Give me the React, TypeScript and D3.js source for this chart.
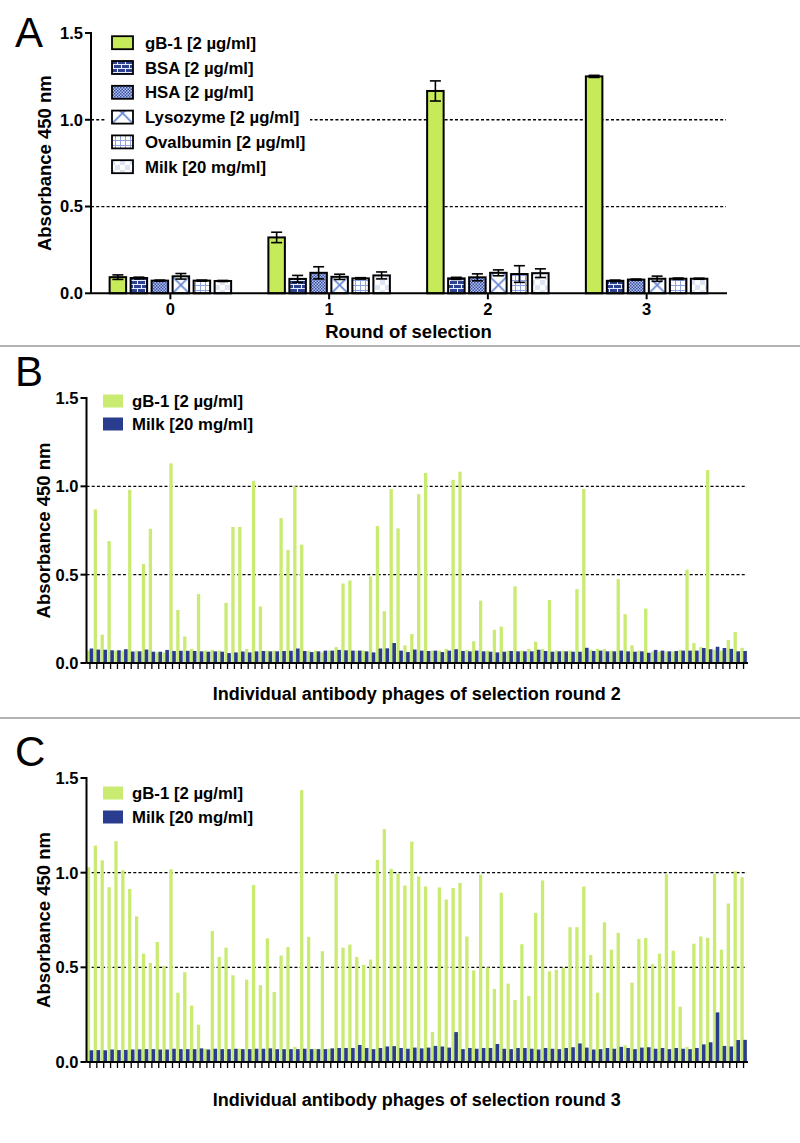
import React from "react";
import * as d3 from "d3";

// ---------- Panel A data ----------
const roundsA = ["0", "1", "2", "3"];
const seriesA = [
  "gB-1 [2 µg/ml]",
  "BSA [2 µg/ml]",
  "HSA [2 µg/ml]",
  "Lysozyme [2 µg/ml]",
  "Ovalbumin [2 µg/ml]",
  "Milk [20 mg/ml]",
];
const gb1MeanA = [0.093, 0.322, 1.166, 1.250];
const gb1ErrA = [0.013, 0.03, 0.058, 0.006];
const bsaMeanA = [0.088, 0.083, 0.086, 0.072];
const bsaErrA = [0.005, 0.02, 0.006, 0.004];
const hsaMeanA = [0.073, 0.118, 0.092, 0.079];
const hsaErrA = [0.003, 0.035, 0.02, 0.003];
const lysoMeanA = [0.098, 0.095, 0.118, 0.084];
const lysoErrA = [0.016, 0.015, 0.017, 0.015];
const ovalMeanA = [0.073, 0.086, 0.111, 0.084];
const ovalErrA = [0.003, 0.004, 0.048, 0.004];
const milkMeanA = [0.071, 0.103, 0.116, 0.084];
const milkErrA = [0.003, 0.02, 0.025, 0.003];

// ---------- Panel B data (selection round 2) ----------
const gb1B = [
  0.07, 0.87, 0.16, 0.69, 0.07, 0.07, 0.98, 0.07, 0.56, 0.76,
  0.06, 0.06, 1.13, 0.30, 0.15, 0.08, 0.39, 0.07, 0.075, 0.07,
  0.34, 0.77, 0.77, 0.08, 1.03, 0.32, 0.07, 0.07, 0.82, 0.64,
  1.00, 0.67, 0.07, 0.07, 0.06, 0.07, 0.09, 0.45, 0.467, 0.07,
  0.07, 0.49, 0.775, 0.293, 0.985, 0.762, 0.10, 0.164, 0.956, 1.076,
  0.07, 0.07, 0.08, 1.037, 1.083, 0.075, 0.123, 0.353, 0.07, 0.188,
  0.206, 0.07, 0.434, 0.07, 0.08, 0.12, 0.08, 0.357, 0.07, 0.07,
  0.07, 0.418, 0.985, 0.075, 0.08, 0.08, 0.07, 0.475, 0.276, 0.10,
  0.07, 0.308, 0.065, 0.065, 0.065, 0.065, 0.075, 0.528, 0.113, 0.09,
  1.092, 0.075, 0.07, 0.13, 0.175, 0.086,
];
const milkB = [
  0.082, 0.076, 0.075, 0.072, 0.072, 0.078, 0.065, 0.066, 0.076, 0.064,
  0.064, 0.074, 0.068, 0.069, 0.069, 0.068, 0.066, 0.064, 0.066, 0.064,
  0.056, 0.060, 0.065, 0.060, 0.066, 0.068, 0.066, 0.066, 0.068, 0.069,
  0.082, 0.068, 0.062, 0.066, 0.070, 0.070, 0.074, 0.072, 0.070, 0.070,
  0.066, 0.060, 0.082, 0.083, 0.113, 0.070, 0.062, 0.076, 0.070, 0.068,
  0.070, 0.062, 0.070, 0.078, 0.068, 0.066, 0.070, 0.066, 0.064, 0.060,
  0.064, 0.068, 0.066, 0.066, 0.066, 0.075, 0.068, 0.064, 0.066, 0.066,
  0.064, 0.064, 0.086, 0.068, 0.070, 0.066, 0.066, 0.070, 0.066, 0.064,
  0.066, 0.058, 0.074, 0.070, 0.066, 0.068, 0.070, 0.070, 0.070, 0.085,
  0.078, 0.092, 0.085, 0.080, 0.066, 0.068,
];

// ---------- Panel C data (selection round 3) ----------
const gb1C = [
  1.029, 1.143, 1.065, 0.923, 1.166, 1.013, 0.914, 0.769, 0.572, 0.523,
  0.634, 0.507, 1.018, 0.366, 0.474, 0.298, 0.197, 0.07, 0.692, 0.555,
  0.604, 0.458, 0.07, 0.435, 0.935, 0.406, 0.653, 0.37, 0.562, 0.607,
  0.08, 1.436, 0.661, 0.07, 0.585, 0.07, 0.995, 0.604, 0.62, 0.555,
  0.513, 0.541, 1.068, 1.23, 1.02, 0.995, 0.932, 1.164, 0.98, 0.927,
  0.158, 0.922, 0.858, 0.919, 0.946, 0.663, 0.484, 0.989, 0.50, 0.386,
  0.894, 0.414, 0.327, 0.622, 0.349, 0.788, 0.959, 0.479, 0.487, 0.498,
  0.712, 0.712, 0.927, 0.565, 0.366, 0.738, 0.593, 0.682, 0.088, 0.419,
  0.65, 0.655, 0.516, 0.572, 0.992, 0.588, 0.292, 0.08, 0.625, 0.663,
  0.656, 0.995, 0.593, 0.837, 1.008, 0.976,
];
const milkC = [
  0.062, 0.063, 0.062, 0.066, 0.063, 0.064, 0.066, 0.067, 0.068, 0.068,
  0.066, 0.066, 0.070, 0.068, 0.068, 0.068, 0.072, 0.066, 0.070, 0.068,
  0.068, 0.070, 0.068, 0.068, 0.070, 0.070, 0.072, 0.068, 0.068, 0.068,
  0.068, 0.070, 0.068, 0.068, 0.068, 0.072, 0.074, 0.074, 0.074, 0.090,
  0.074, 0.068, 0.074, 0.082, 0.084, 0.074, 0.070, 0.076, 0.072, 0.076,
  0.085, 0.082, 0.076, 0.158, 0.068, 0.074, 0.070, 0.074, 0.074, 0.095,
  0.070, 0.068, 0.074, 0.074, 0.070, 0.066, 0.074, 0.070, 0.068, 0.074,
  0.078, 0.098, 0.076, 0.066, 0.068, 0.074, 0.070, 0.080, 0.074, 0.068,
  0.076, 0.078, 0.070, 0.074, 0.068, 0.074, 0.070, 0.068, 0.074, 0.093,
  0.104, 0.262, 0.085, 0.082, 0.116, 0.117,
];

const yTicks = [0, 0.5, 1.0, 1.5];
const legendBC = ["gB-1 [2 µg/ml]", "Milk [20 mg/ml]"];

const FONT = "'Liberation Sans', Arial, Helvetica, sans-serif";
const GREEN_A = "#c6ea5a";
const GREEN_BC = "#c9eb72";
const NAVY = "#2a3c8e";
const TITLE_SIZE = 18.5;
const LEGEND_SIZE = 16.75;

const meansA = [gb1MeanA, bsaMeanA, hsaMeanA, lysoMeanA, ovalMeanA, milkMeanA];
const errsA = [gb1ErrA, bsaErrA, hsaErrA, lysoErrA, ovalErrA, milkErrA];
const fillsA = [GREEN_A, "url(#pBrick)", "url(#pCheck)", "LYSO", "url(#pGrid)", "url(#pMilk)"];

function Grid({ y, x0, x1 }: { y: d3.ScaleLinear<number, number>; x0: number; x1: number }) {
  return (
    <g>
      {[0.5, 1.0].map((t) => (
        <line key={"g" + t} x1={x0} x2={x1} y1={y(t)} y2={y(t)} stroke="#000" strokeWidth={1.3} strokeDasharray="3,2.2" />
      ))}
    </g>
  );
}

function YAxisLine({ y, x0 }: { y: d3.ScaleLinear<number, number>; x0: number }) {
  return (
    <g>
      <line x1={x0} x2={x0} y1={y(1.5) - 1} y2={y(0)} stroke="#000" strokeWidth={2} />
      {yTicks.map((t) => (
        <g key={t}>
          <line x1={x0 - 6} x2={x0} y1={y(t)} y2={y(t)} stroke="#000" strokeWidth={2} />
          <text x={x0 - 8} y={y(t)} dy="0.36em" textAnchor="end" fontFamily={FONT} fontWeight="bold" fontSize={16.5}>
            {t.toFixed(1)}
          </text>
        </g>
      ))}
    </g>
  );
}

function PanelBC({
  letter, gb1, milk, top, bottom, title, titleY, legendY, legendGap,
}: {
  letter: string; gb1: number[]; milk: number[]; top: number; bottom: number;
  title: string; titleY: number; legendY: number; legendGap: number;
}) {
  const x0 = 86.5;
  const x1 = 747;
  const y = d3.scaleLinear().domain([0, 1.5]).range([bottom, top]);
  const x = d3.scaleBand<number>().domain(d3.range(gb1.length)).range([x0, x1]);
  const bw = x.bandwidth();
  return (
    <g>
      <text x={15} y={top - 12} fontFamily={FONT} fontSize={42}>{letter}</text>
      <Grid y={y} x0={x0} x1={x1} />
      {gb1.map((v, i) => (
        <rect key={"g" + i} x={(x(i) as number) + 0.3} width={bw * 0.48} y={y(v)} height={y(0) - y(v)} fill={GREEN_BC} />
      ))}
      {milk.map((v, i) => (
        <rect key={"m" + i} x={(x(i) as number) + bw * 0.46} width={bw * 0.52} y={y(v)} height={y(0) - y(v)} fill={NAVY} />
      ))}
      <line x1={x0} x2={x1 + 1} y1={y(0)} y2={y(0)} stroke="#000" strokeWidth={2} />
      {gb1.map((_, i) => (
        <line key={"t" + i} x1={(x(i) as number) + bw / 2} x2={(x(i) as number) + bw / 2} y1={y(0)} y2={y(0) + 6} stroke="#000" strokeWidth={1.3} />
      ))}
      <YAxisLine y={y} x0={x0} />
      <text transform={`translate(50,${(top + bottom) / 2}) rotate(-90)`} textAnchor="middle" fontFamily={FONT} fontWeight="bold" fontSize={TITLE_SIZE}>
        Absorbance 450 nm
      </text>
      <text x={(x0 + x1) / 2} y={titleY} textAnchor="middle" fontFamily={FONT} fontWeight="bold" fontSize={18}>
        {title}
      </text>
      {legendBC.map((s, k) => (
        <g key={s}>
          <rect x={103} y={legendY + k * legendGap - 6.5} width={20} height={13} fill={k === 0 ? GREEN_BC : NAVY} />
          <text x={132} y={legendY + k * legendGap} dy="0.36em" fontFamily={FONT} fontWeight="bold" fontSize={LEGEND_SIZE}>{s}</text>
        </g>
      ))}
    </g>
  );
}

export default function App() {
  // Panel A scales
  const xA = d3.scaleBand().domain(roundsA).range([91, 726]);
  const groupW = 121.5;
  const xInner = d3.scaleBand().domain(seriesA).range([0, groupW]).paddingInner(0.214);
  const yA = d3.scaleLinear().domain([0, 1.5]).range([293.3, 33]);
  const bwA = xInner.bandwidth();

  const lysoPatterns: { id: string; x: number; y: number; w: number }[] = [];
  const barsA: React.ReactNode[] = [];
  const errA: React.ReactNode[] = [];
  roundsA.forEach((r, ri) => {
    const gx = (xA(r) as number) + xA.bandwidth() / 2 - groupW / 2;
    seriesA.forEach((s, si) => {
      const v = meansA[si][ri];
      const e = errsA[si][ri];
      const bx = gx + (xInner(s) as number);
      let fill = fillsA[si];
      if (fill === "LYSO") {
        const id = `lyso${ri}`;
        lysoPatterns.push({ id, x: bx, y: yA(0), w: bwA });
        fill = `url(#${id})`;
      }
      barsA.push(
        <rect key={`a${ri}-${si}`} x={bx} y={yA(v)} width={bwA} height={yA(0) - yA(v)} fill={fill} stroke="#000" strokeWidth={2} />
      );
      const cx = bx + bwA / 2;
      errA.push(
        <g key={`e${ri}-${si}`} stroke="#000" strokeWidth={1.6}>
          <line x1={cx} x2={cx} y1={yA(v + e)} y2={yA(v - e)} />
          <line x1={cx - 5.5} x2={cx + 5.5} y1={yA(v + e)} y2={yA(v + e)} />
          <line x1={cx - 5.5} x2={cx + 5.5} y1={yA(v - e)} y2={yA(v - e)} />
        </g>
      );
    });
  });
  const legendRowY = (k: number) => 42.7 + k * 24.8;
  lysoPatterns.push({ id: "lysoLeg", x: 112, y: legendRowY(3) + 6.5, w: 21 });

  return (
    <svg width={800} height={1143} style={{ position: "absolute", left: 0, top: 0, display: "block", background: "#fff" }}>
      <defs>
        <pattern id="pBrick" width={8} height={8} patternUnits="userSpaceOnUse">
          <rect width={8} height={8} fill="#2d4290" />
          <path d="M0 0.5H8 M0 4.5H8 M1.5 0.5V4.5 M5.5 4.5V8.5" stroke="#e8ecff" strokeWidth={1} />
        </pattern>
        <pattern id="pCheck" width={3} height={3} patternUnits="userSpaceOnUse">
          <rect width={3} height={3} fill="#b4c0ec" />
          <rect width={1.5} height={1.5} fill="#3a52a6" />
          <rect x={1.5} y={1.5} width={1.5} height={1.5} fill="#3a52a6" />
        </pattern>
        <pattern id="pGrid" width={5} height={5} patternUnits="userSpaceOnUse">
          <rect width={5} height={5} fill="#fff" />
          <path d="M0 0.5H5 M0.5 0V5" stroke="#8ea2dc" strokeWidth={1} />
        </pattern>
        <pattern id="pMilk" width={10} height={10} patternUnits="userSpaceOnUse">
          <rect width={10} height={10} fill="#fff" />
          <rect width={5} height={5} fill="#dde4f4" />
          <rect x={5} y={5} width={5} height={5} fill="#dde4f4" />
        </pattern>
        {lysoPatterns.map((p) => (
          <pattern key={p.id} id={p.id} x={p.x} y={p.y} width={p.w} height={p.w} patternUnits="userSpaceOnUse">
            <rect width={p.w} height={p.w} fill="#fff" />
            <path d={`M0 0L${p.w} ${p.w} M${p.w} 0L0 ${p.w}`} stroke="#6a8ad6" strokeWidth={1.8} />
          </pattern>
        ))}
      </defs>

      {/* ---------- Panel A ---------- */}
      <text x={15} y={47} fontFamily={FONT} fontSize={42}>A</text>
      <Grid y={yA} x0={91} x1={726} />
      {barsA}
      {errA}
      <line x1={91} x2={727} y1={yA(0)} y2={yA(0)} stroke="#000" strokeWidth={2} />
      {roundsA.map((r) => {
        const cx = (xA(r) as number) + xA.bandwidth() / 2;
        return (
          <g key={r}>
            <line x1={cx} x2={cx} y1={yA(0)} y2={yA(0) + 6} stroke="#000" strokeWidth={2} />
            <text x={cx} y={315} textAnchor="middle" fontFamily={FONT} fontWeight="bold" fontSize={16.5}>{r}</text>
          </g>
        );
      })}
      <YAxisLine y={yA} x0={91} />
      <text transform={`translate(51,${(yA(0) + yA(1.5)) / 2}) rotate(-90)`} textAnchor="middle" fontFamily={FONT} fontWeight="bold" fontSize={TITLE_SIZE}>
        Absorbance 450 nm
      </text>
      <text x={408.5} y={338} textAnchor="middle" fontFamily={FONT} fontWeight="bold" fontSize={TITLE_SIZE}>Round of selection</text>
      {/* legend with white background masking gridline */}
      <rect x={106} y={28} width={204} height={152} fill="#fff" />
      {seriesA.map((s, k) => {
        const cy = legendRowY(k);
        let fill = fillsA[k];
        if (fill === "LYSO") fill = "url(#lysoLeg)";
        return (
          <g key={s}>
            <rect x={112} y={cy - 6.5} width={21} height={13} fill={fill} stroke="#000" strokeWidth={1.8} />
            <text x={145} y={cy} dy="0.36em" fontFamily={FONT} fontWeight="bold" fontSize={LEGEND_SIZE}>{s}</text>
          </g>
        );
      })}

      <line x1={0} x2={800} y1={346} y2={346} stroke="#9a9a9a" strokeWidth={1.5} />

      {/* ---------- Panel B ---------- */}
      <PanelBC
        letter="B" gb1={gb1B} milk={milkB} top={398} bottom={663}
        title="Individual antibody phages of selection round 2" titleY={699.5}
        legendY={401} legendGap={23}
      />

      <line x1={0} x2={800} y1={718} y2={718} stroke="#9a9a9a" strokeWidth={1.5} />

      {/* ---------- Panel C ---------- */}
      <PanelBC
        letter="C" gb1={gb1C} milk={milkC} top={778} bottom={1062}
        title="Individual antibody phages of selection round 3" titleY={1106}
        legendY={793} legendGap={24}
      />
    </svg>
  );
}
